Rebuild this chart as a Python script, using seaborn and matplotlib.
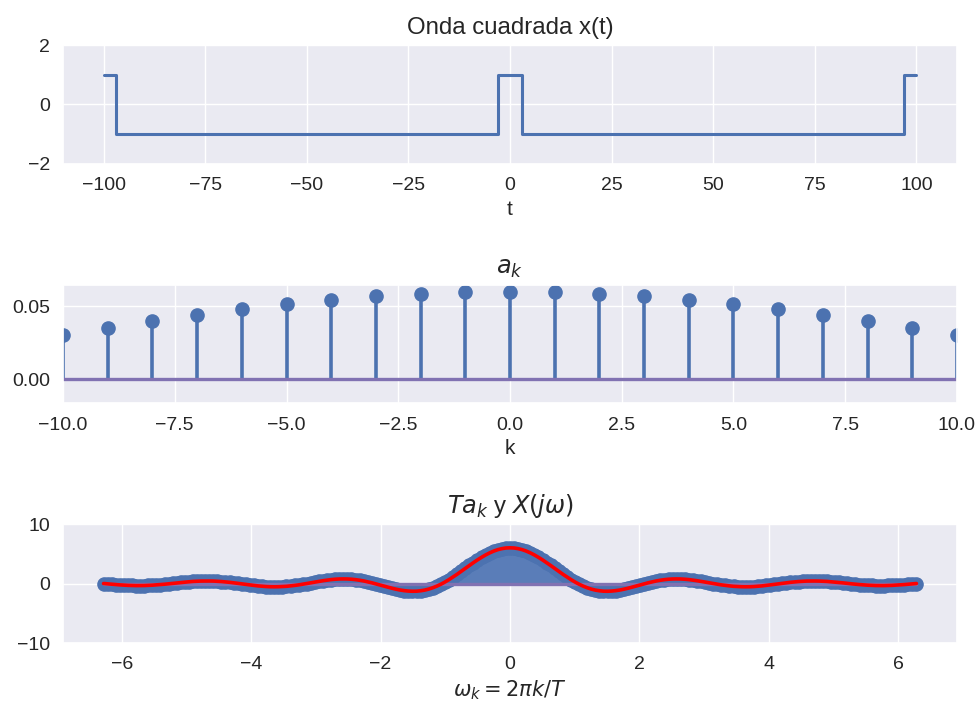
import numpy as np
import pandas as pd
import matplotlib
matplotlib.use("Agg")
import matplotlib.pyplot as plt
import seaborn as sns

# ---- data ----
# square wave x(t): breakpoints (t) and levels
t_pts = [-100, -97, -97, -3, -3, 3, 3, 97, 97, 100]
x_pts = [1, 1, -1, -1, 1, 1, -1, -1, 1, 1]

# Fourier coefficients a_k, k = -10..10
k_vals = list(range(-10, 11))
ak_vals = [0.0303, 0.0351, 0.0397, 0.0441, 0.0480, 0.0515, 0.0545, 0.0569, 0.0586, 0.0597, 0.0600,
           0.0597, 0.0586, 0.0569, 0.0545, 0.0515, 0.0480, 0.0441, 0.0397, 0.0351, 0.0303]

# T*a_k (= X(jw) at w_k), read for k = 0..100 (symmetric in k), T = 100
T_period = 100
Tak_pos = [6.00, 5.97, 5.86, 5.69, 5.45, 5.15, 4.80, 4.40, 3.97, 3.51,
           3.03, 2.54, 2.04, 1.56, 1.10, 0.66, 0.25, -0.12, -0.44, -0.71,
           -0.94, -1.11, -1.22, -1.29, -1.30, -1.27, -1.20, -1.10, -0.96, -0.80,
           -0.62, -0.44, -0.25, -0.06, 0.12, 0.28, 0.43, 0.55, 0.65, 0.72,
           0.76, 0.77, 0.76, 0.72, 0.66, 0.57, 0.47, 0.36, 0.24, 0.12,
           0.00, -0.12, -0.23, -0.32, -0.40, -0.47, -0.51, -0.54, -0.55, -0.54,
           -0.51, -0.46, -0.40, -0.32, -0.24, -0.15, -0.06, 0.03, 0.12, 0.20,
           0.27, 0.33, 0.37, 0.41, 0.42, 0.42, 0.41, 0.38, 0.35, 0.29,
           0.23, 0.17, 0.10, 0.02, -0.05, -0.12, -0.18, -0.23, -0.28, -0.31,
           -0.34, -0.35, -0.35, -0.33, -0.31, -0.27, -0.23, -0.18, -0.12, -0.06,
           0.00]

k_dense = np.arange(-T_period, T_period + 1)
Tak_full = np.array(Tak_pos[:0:-1] + Tak_pos)
w_k = 2 * np.pi * k_dense / T_period

# ---- style ----
sns.set_theme(style="darkgrid")
plt.rcParams["font.family"] = ["Liberation Sans", "DejaVu Sans"]
plt.rcParams["axes.unicode_minus"] = True
plt.rcParams["xtick.labelsize"] = 14
plt.rcParams["ytick.labelsize"] = 14
plt.rcParams["axes.labelsize"] = 15
plt.rcParams["axes.titlesize"] = 17.3
plt.rcParams["text.color"] = ".15"
plt.rcParams["xtick.color"] = ".15"
plt.rcParams["ytick.color"] = ".15"
plt.rcParams["axes.labelcolor"] = ".15"

blue = "#4C72B0"
stem_fill = "#5A7DB8"
purple = "#8172B2"

fig, axes = plt.subplots(3, 1, figsize=(9.78, 7.09), dpi=100)
fig.subplots_adjust(left=63 / 978, right=957 / 978, top=1 - 45 / 709, bottom=1 - 643 / 709, hspace=1.013)

# top: square wave
ax = axes[0]
df_sq = pd.DataFrame({"t": t_pts, "x": x_pts})
sns.lineplot(data=df_sq, x="t", y="x", ax=ax, color=blue, linewidth=2.2,
             estimator=None, sort=False)
ax.set_xlim(-110, 110)
ax.set_ylim(-2, 2)
ax.set_xticks([-100, -75, -50, -25, 0, 25, 50, 75, 100])
ax.set_yticks([-2, 0, 2])
ax.set_title("Onda cuadrada x(t)", pad=8)
ax.set_xlabel("t")
ax.set_ylabel("")

# middle: a_k stems
ax = axes[1]
ml, sl, bl = ax.stem(k_vals, ak_vals)
plt.setp(ml, color=blue, markersize=9.5)
plt.setp(sl, color=blue, linewidth=2.6)
plt.setp(bl, color=purple, linewidth=2.4)
ax.set_xlim(-10, 10)
ax.set_ylim(-0.0165, 0.065)
ax.set_xticks(np.arange(-10, 10.1, 2.5))
ax.set_yticks([0.0, 0.05])
ax.set_title("$a_k$", pad=8)
ax.set_xlabel("k")

# bottom: T a_k and X(jw)
ax = axes[2]
ml, sl, bl = ax.stem(w_k, Tak_full)
plt.setp(ml, color=blue, markersize=9.5)
plt.setp(sl, color=stem_fill, linewidth=4.2)
plt.setp(bl, color=purple, linewidth=2.4)
df_X = pd.DataFrame({"w": w_k, "X": Tak_full})
sns.lineplot(data=df_X, x="w", y="X", ax=ax, color="red", linewidth=2.6,
             estimator=None, sort=False)
ax.set_ylim(-10, 10)
ax.set_xlim(-6.91, 6.91)
ax.set_xticks([-6, -4, -2, 0, 2, 4, 6])
ax.set_yticks([-10, 0, 10])
ax.set_title("$Ta_k$ y $X(j\\omega)$", pad=8)
ax.set_xlabel("$\\omega_k = 2\\pi k/T$")
ax.set_ylabel("")

fig.savefig("out.png", dpi=100)
